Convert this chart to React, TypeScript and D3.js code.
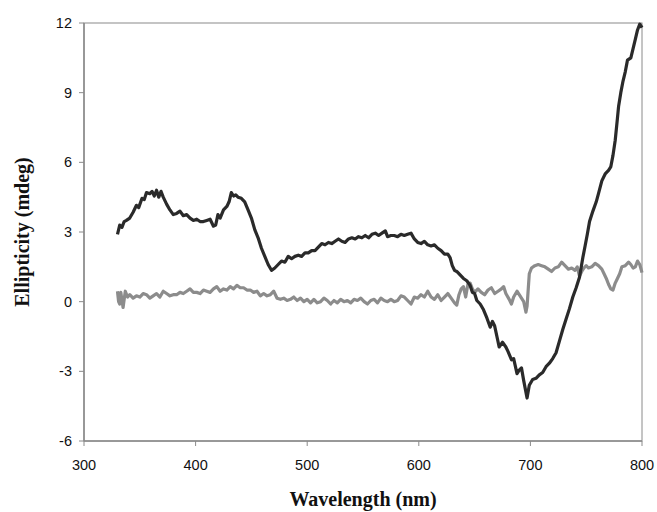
import React from "react"
import * as d3 from "d3"

// ── Data ──────────────────────────────────────────────────────────────────────

const darkWavelengths = [
  330, 332, 334, 336, 338, 341, 344, 347, 349, 352, 354, 356, 359, 361, 363, 365, 367, 369, 371, 374,
  377, 380, 383, 386, 389, 392, 395, 398, 401, 404, 407, 410, 413, 416, 418, 420, 422, 425, 428, 430,
  432, 434, 436, 438, 441, 444, 447, 450, 453, 456, 459, 462, 465, 468, 471, 474, 477, 480, 483, 486,
  489, 492, 495, 498, 501, 504, 507, 510, 513, 516, 519, 522, 525, 528, 531, 534, 537, 540, 543, 546,
  549, 552, 555, 558, 561, 564, 567, 570, 572, 575, 578, 581, 584, 587, 590, 593, 596, 599, 602, 605,
  608, 611, 614, 617, 620, 623, 626, 628, 630, 632, 634, 637, 640, 643, 646, 648, 650, 652, 655, 658,
  661, 664, 666, 668, 670, 672, 675, 678, 680, 683, 685, 688, 690, 692, 694, 697, 699, 702, 705, 708,
  711, 714, 717, 720, 723, 726, 729, 732, 735, 738, 741, 744, 747, 749, 751, 753, 756, 759, 761, 764,
  767, 770, 772, 774, 776, 778, 779, 781, 783, 785, 787, 790, 792, 794, 796, 798, 800,
]
const darkValues = [
  2.9, 3.3, 3.2, 3.45, 3.5, 3.6, 3.85, 4.15, 4.05, 4.45, 4.4, 4.7, 4.65, 4.75, 4.55, 4.8, 4.5, 4.75, 4.5, 4.2,
  3.95, 3.75, 3.8, 3.9, 3.7, 3.75, 3.6, 3.5, 3.55, 3.45, 3.45, 3.5, 3.55, 3.25, 3.3, 3.75, 3.6, 3.95, 4.1, 4.3,
  4.7, 4.55, 4.6, 4.5, 4.45, 4.3, 3.95, 3.6, 3.1, 2.75, 2.3, 1.95, 1.6, 1.35, 1.45, 1.6, 1.75, 1.7, 1.95, 1.85,
  1.95, 2.0, 1.95, 2.1, 2.1, 2.2, 2.2, 2.35, 2.5, 2.45, 2.55, 2.5, 2.6, 2.7, 2.6, 2.55, 2.7, 2.75, 2.7, 2.8,
  2.75, 2.85, 2.75, 2.9, 2.95, 2.85, 2.95, 3.05, 2.8, 2.85, 2.85, 2.8, 2.9, 2.85, 2.9, 2.95, 2.7, 2.55, 2.5, 2.6,
  2.45, 2.4, 2.45, 2.3, 2.2, 2.05, 2.05, 1.9, 1.55, 1.35, 1.3, 1.15, 1.0, 0.9, 0.7, 0.4, 0.35, 0.05, -0.1, -0.35,
  -0.7, -1.1, -0.85, -1.05, -1.5, -1.95, -1.75, -1.95, -2.15, -2.5, -2.45, -3.1, -2.95, -2.85, -3.4, -4.15, -3.6, -3.35, -3.3, -3.15,
  -3.05, -2.8, -2.65, -2.45, -2.2, -1.7, -1.2, -0.75, -0.3, 0.2, 0.6, 1.05, 1.9, 2.4, 2.9, 3.45, 3.9, 4.3, 4.65, 5.2,
  5.5, 5.65, 5.8, 6.3, 6.95, 7.9, 8.4, 9.0, 9.5, 9.9, 10.4, 10.5, 10.9, 11.3, 11.7, 11.95, 11.8,
]

const grayWavelengths = [
  330, 331, 332, 333, 335, 337, 339, 341, 344, 347, 350, 353, 356, 359, 362, 365, 368, 371, 374, 377,
  380, 383, 386, 389, 392, 395, 398, 401, 404, 407, 410, 413, 416, 419, 422, 425, 428, 431, 434, 437,
  440, 443, 446, 449, 452, 455, 458, 461, 464, 467, 470, 473, 476, 479, 482, 485, 488, 491, 494, 497,
  500, 503, 506, 509, 512, 515, 518, 521, 524, 527, 530, 533, 536, 539, 542, 545, 548, 551, 554, 557,
  560, 563, 566, 569, 572, 575, 578, 581, 584, 587, 590, 593, 596, 599, 602, 605, 608, 611, 614, 617,
  620, 623, 626, 629, 632, 634, 636, 638, 640, 642, 644, 646, 648, 650, 653, 656, 659, 662, 665, 668,
  671, 674, 676, 678, 681, 683, 685, 688, 690, 692, 694, 696, 697, 699, 701, 704, 707, 710, 713, 716,
  719, 722, 725, 728, 731, 734, 737, 740, 742, 744, 746, 748, 750, 752, 755, 758, 761, 764, 766, 768,
  770, 772, 774, 776, 778, 780, 782, 785, 788, 790, 792, 794, 796, 798, 800,
]
const grayValues = [
  0.45, 0.0, -0.1, 0.4, -0.25, 0.45, 0.2, 0.3, 0.15, 0.25, 0.2, 0.35, 0.3, 0.15, 0.25, 0.35, 0.2, 0.45, 0.35, 0.25,
  0.3, 0.3, 0.4, 0.35, 0.45, 0.55, 0.4, 0.4, 0.35, 0.5, 0.45, 0.4, 0.55, 0.65, 0.45, 0.55, 0.5, 0.65, 0.55, 0.7,
  0.6, 0.6, 0.5, 0.5, 0.4, 0.45, 0.25, 0.35, 0.25, 0.3, 0.45, 0.15, 0.1, 0.15, 0.05, 0.1, 0.2, 0.05, 0.15, 0.0,
  0.1, -0.05, 0.1, -0.05, 0.0, 0.15, 0.05, -0.1, 0.05, -0.05, 0.1, 0.0, 0.05, -0.05, 0.1, 0.05, 0.15, 0.0, -0.1, 0.05,
  0.1, -0.05, 0.15, 0.05, 0.0, 0.1, 0.0, 0.05, 0.25, 0.2, 0.05, -0.1, 0.2, 0.15, 0.3, 0.2, 0.45, 0.2, 0.1, 0.3,
  0.05, 0.2, 0.35, 0.15, -0.05, -0.15, 0.3, 0.55, 0.65, 0.2, 0.75, 0.8, 0.55, 0.4, 0.55, 0.4, 0.3, 0.5, 0.6, 0.35,
  0.45, 0.55, 0.65, 0.35, 0.1, -0.1, 0.2, 0.45, 0.3, 0.15, 0.0, -0.45, -0.2, 1.2, 1.45, 1.55, 1.6, 1.55, 1.5, 1.4,
  1.3, 1.45, 1.5, 1.7, 1.55, 1.4, 1.45, 1.35, 1.5, 1.1, 1.3, 1.45, 1.55, 1.45, 1.5, 1.65, 1.55, 1.4, 1.2, 1.0,
  0.75, 0.55, 0.5, 0.8, 1.0, 1.2, 1.5, 1.55, 1.7, 1.6, 1.45, 1.5, 1.75, 1.6, 1.25,
]

const xTicks = [300, 400, 500, 600, 700, 800]
const yTicks = [-6, -3, 0, 3, 6, 9, 12]

// ── Chart ─────────────────────────────────────────────────────────────────────

const W = 657
const H = 512
const margin = { top: 23, right: 15, bottom: 71, left: 84 }

export default function App() {
  const innerW = W - margin.left - margin.right
  const innerH = H - margin.top - margin.bottom

  const x = d3.scaleLinear().domain([300, 800]).range([0, innerW])
  const y = d3.scaleLinear().domain([-6, 12]).range([innerH, 0])

  const line = d3
    .line<[number, number]>()
    .x(d => x(d[0]))
    .y(d => y(d[1]))

  const darkPath = line(darkWavelengths.map((w, i) => [w, darkValues[i]]))
  const grayPath = line(grayWavelengths.map((w, i) => [w, grayValues[i]]))

  const axisColor = "#8a8a8a"

  return (
    <div style={{ position: "fixed", left: 0, top: 0 }}>
      <svg width={W} height={H} style={{ display: "block", background: "#fff" }}>
        <g transform={`translate(${margin.left},${margin.top})`}>
          {/* frame */}
          <rect x={0} y={0} width={innerW} height={innerH} fill="none" stroke={axisColor} strokeWidth={1} />
          <line x1={0} x2={0} y1={0} y2={innerH} stroke={axisColor} strokeWidth={1.5} />
          <line x1={0} x2={innerW} y1={innerH} y2={innerH} stroke={axisColor} strokeWidth={1.5} />

          {/* y ticks */}
          {yTicks.map(t => (
            <g key={t} transform={`translate(0,${y(t)})`}>
              <line x1={-5} x2={0} stroke={axisColor} strokeWidth={1} />
              <text
                x={-12}
                dy="0.35em"
                textAnchor="end"
                fontFamily="Liberation Sans, Arial, sans-serif"
                fontSize={14.5}
                fill="#111"
              >
                {t}
              </text>
            </g>
          ))}

          {/* x ticks */}
          {xTicks.map(t => (
            <g key={t} transform={`translate(${x(t)},${innerH})`}>
              <line y1={0} y2={5} stroke={axisColor} strokeWidth={1} />
              <text
                y={29}
                textAnchor="middle"
                fontFamily="Liberation Sans, Arial, sans-serif"
                fontSize={14.5}
                fill="#111"
              >
                {t}
              </text>
            </g>
          ))}

          {/* curves */}
          <path d={grayPath ?? ""} fill="none" stroke="#8c8c8c" strokeWidth={3.2} strokeLinejoin="round" />
          <path d={darkPath ?? ""} fill="none" stroke="#2a2a2a" strokeWidth={3.2} strokeLinejoin="round" />
        </g>

        {/* axis titles */}
        <text
          x={363}
          y={506}
          textAnchor="middle"
          fontFamily="Liberation Serif, Times New Roman, serif"
          fontWeight="bold"
          fontSize={20}
          fill="#111"
        >
          Wavelength (nm)
        </text>
        <text
          transform={`translate(29,232) rotate(-90)`}
          textAnchor="middle"
          fontFamily="Liberation Serif, Times New Roman, serif"
          fontWeight="bold"
          fontSize={20}
          fill="#111"
        >
          Ellipticity (mdeg)
        </text>
      </svg>
    </div>
  )
}
